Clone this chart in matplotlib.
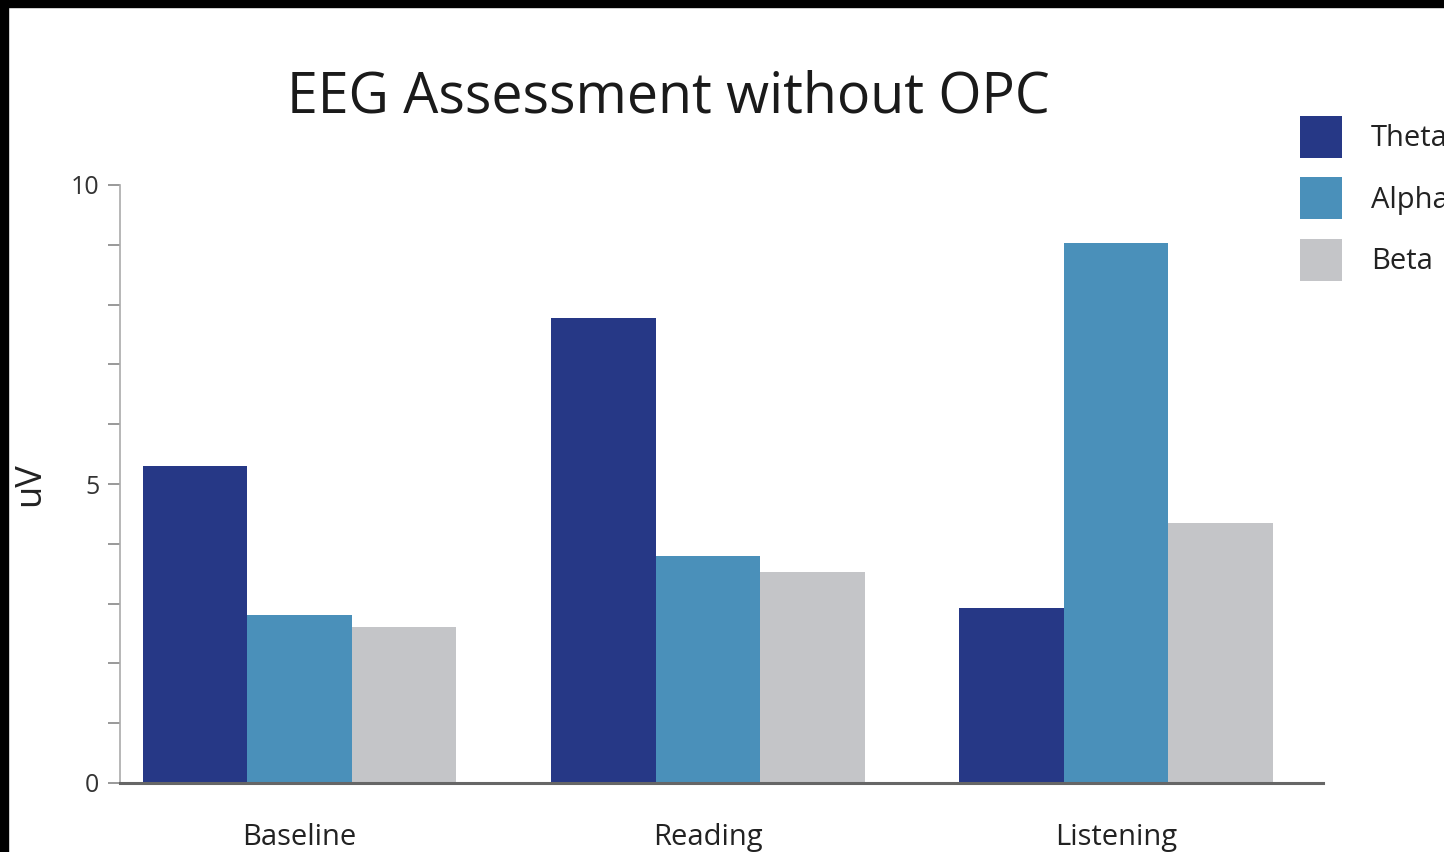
import matplotlib
matplotlib.use("Agg")
import matplotlib.pyplot as plt
from matplotlib.patches import Rectangle
import numpy as np

plt.rcParams['font.family'] = ['Open Sans', 'DejaVu Sans']

categories = ["Baseline", "Reading", "Listening"]
series_names = ["Theta", "Alpha", "Beta"]
theta = [5.30, 7.78, 2.93]
alpha = [2.81, 3.80, 9.03]
beta = [2.61, 3.53, 4.35]
colors = ["#263886", "#4A90BA", "#C4C5C8"]
title = "EEG Assessment without OPC"
ylabel = "uV"

W, H = 1444, 852
fig = plt.figure(figsize=(W / 100, H / 100), dpi=100)
fig.patch.set_facecolor("white")

ax = fig.add_axes([120 / W, 1 - 783 / H, (1323 - 120) / W, (783 - 185) / H])
x = np.arange(len(categories))
bw = 0.256
for i, (vals, name, c) in enumerate(zip([theta, alpha, beta], series_names, colors)):
    ax.bar(x + (i - 1) * bw, vals, width=bw, color=c, label=name, linewidth=0)

ax.set_xlim(-0.44, 2.507)
ax.set_ylim(0, 10)
ax.set_yticks([0, 5, 10])
ax.set_yticks(np.arange(0, 11, 1), minor=True)
ax.set_xticks(x)
ax.set_xticklabels(categories, fontsize=21, color="#222222")
ax.tick_params(axis="x", length=0, pad=29)
ax.tick_params(axis="y", which="both", length=9, width=1.2, color="#888888",
               labelsize=18, labelcolor="#333333", pad=6)
ax.tick_params(axis="y", which="minor", labelleft=False)
for s in ["top", "right"]:
    ax.spines[s].set_visible(False)
ax.spines["left"].set_color("#AAAAAA")
ax.spines["left"].set_linewidth(1.2)
ax.spines["bottom"].set_color("#666666")
ax.spines["bottom"].set_linewidth(2.2)
ax.set_ylabel(ylabel, fontsize=26, color="#222222", labelpad=16)

fig.text(668 / W, 1 - 98 / H, title, fontsize=40, color="#1a1a1a",
         ha="center", va="center")

leg = ax.legend(loc="upper left", bbox_to_anchor=(1300 / W, 1 - 116 / H),
                bbox_transform=fig.transFigure, frameon=False, fontsize=21,
                handlelength=1.44, handleheight=1.84, handletextpad=1.0,
                labelspacing=0.66, borderpad=0, borderaxespad=0)
for t in leg.get_texts():
    t.set_color("#222222")

# black scan border (top and left)
fig.patches.append(Rectangle((0, 1 - 7 / H), 1, 7 / H, transform=fig.transFigure,
                             color="black", zorder=10))
fig.patches.append(Rectangle((0, 0), 8 / W, 1, transform=fig.transFigure,
                             color="black", zorder=10))

fig.savefig("out.png", dpi=100)
